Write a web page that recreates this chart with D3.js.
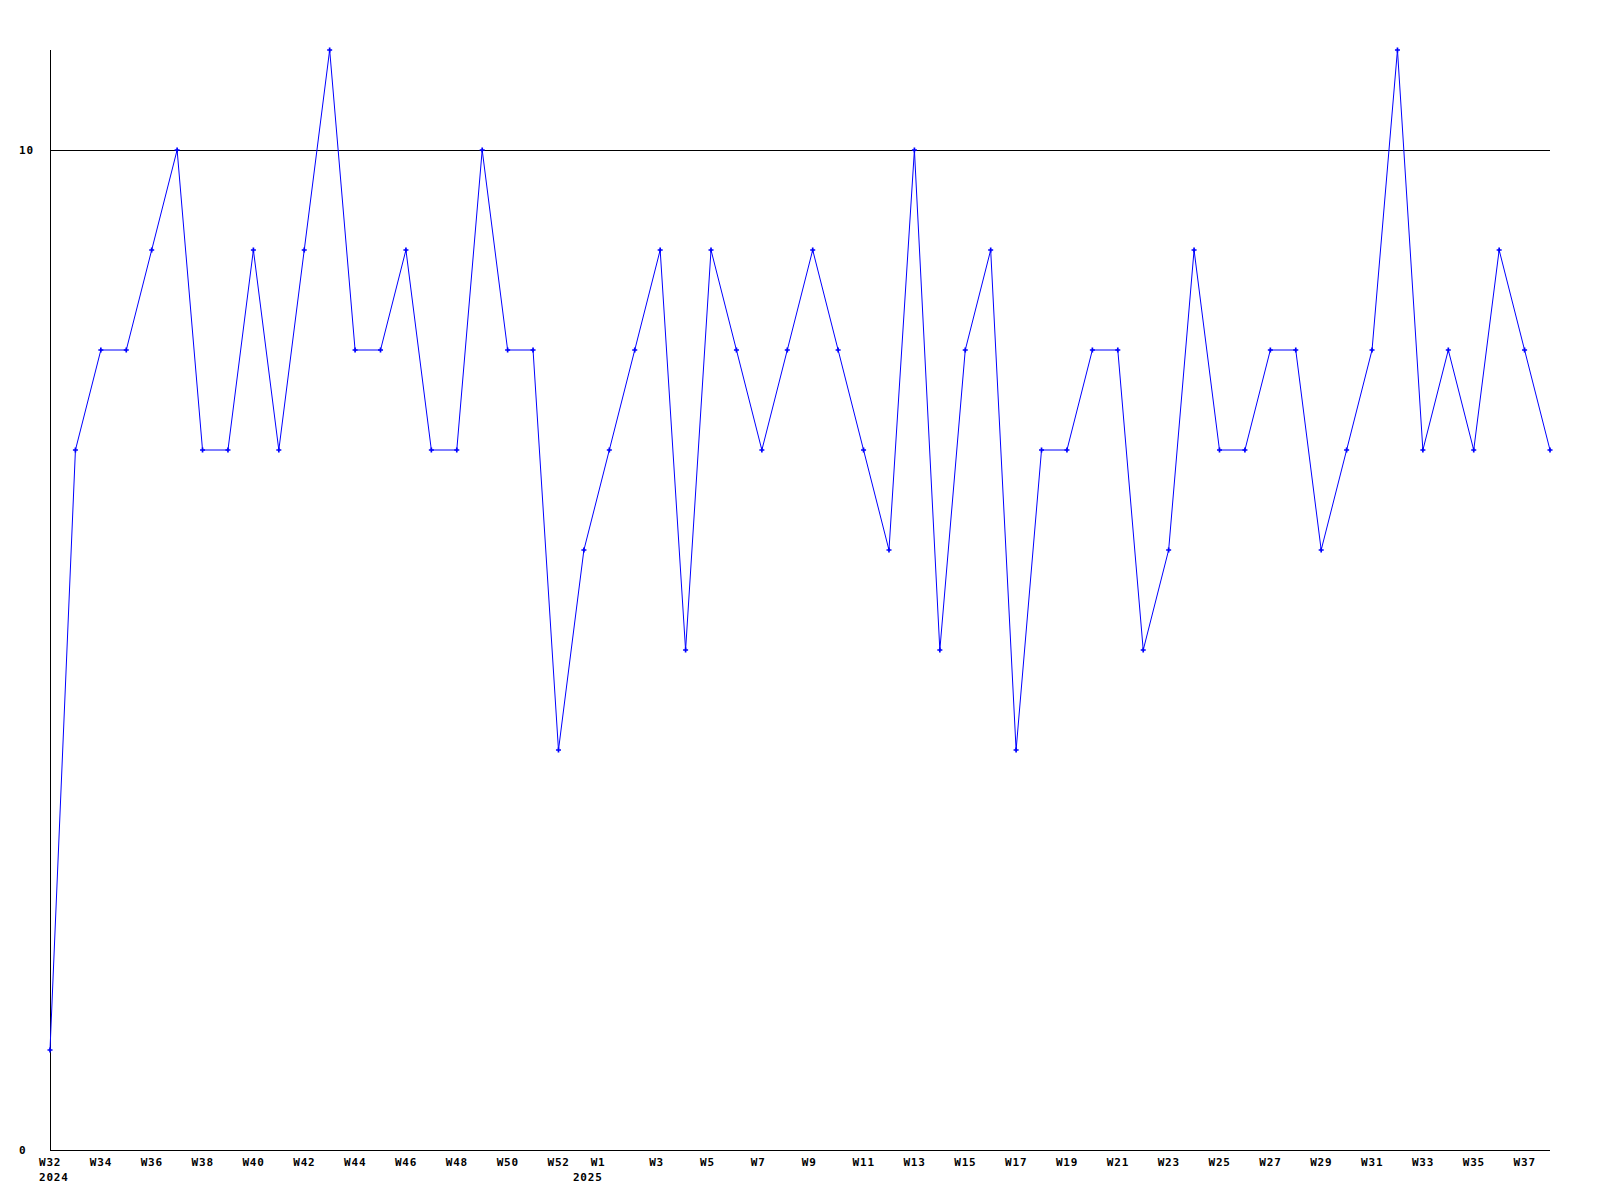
<!DOCTYPE html>
<html>
<head>
<meta charset="utf-8">
<script src="https://cdn.jsdelivr.net/npm/d3@7"></script>
<style>
	body { margin: 0; background: #fff; }
	text { font-family: "DejaVu Sans Mono", monospace; font-weight: bold; font-size: 11px; letter-spacing: 0.8px; fill: #000; }
</style>
</head>
<body>
<svg id="chart" width="1600" height="1200"></svg>
<script>
// weekly counts, W32 2024 .. W38 2025 (one extra week around new year)
var counts = [1, 7, 8, 8, 9, 10, 7, 7, 9, 7, 9, 11, 8, 8, 9, 7, 7, 10, 8, 8,
	4, 6, 7, 8, 9, 5, 9, 8, 7, 8, 9, 8, 7, 6, 10, 5, 8, 9, 4, 7,
	7, 8, 8, 5, 6, 9, 7, 7, 8, 8, 6, 7, 8, 11, 7, 8, 7, 9, 8, 7];

// week tick labels and their position in the series
var weekLabels = ["W32", "W34", "W36", "W38", "W40", "W42", "W44", "W46", "W48", "W50", "W52",
	"W1", "W3", "W5", "W7", "W9", "W11", "W13", "W15", "W17", "W19", "W21", "W23", "W25",
	"W27", "W29", "W31", "W33", "W35", "W37"];
var weekPos = [0, 2, 4, 6, 8, 10, 12, 14, 16, 18, 20,
	21.7, 24, 26, 28, 30, 32, 34, 36, 38, 40, 42, 44, 46,
	48, 50, 52, 54, 56, 58];
var yearLabels = ["2024", "2025"];
var yearPos = [0, 21];
var yTicks = [0, 10];

var margin = {top: 50, right: 50, bottom: 50, left: 50};
var width = 1600 - margin.left - margin.right,
	height = 1200 - margin.top - margin.bottom;

var xScale = d3.scaleLinear()
	.domain([0, counts.length - 1])
	.range([0, width]);

var yScale = d3.scaleLinear()
	.domain([0, 11])
	.range([height, 0]);

var svg = d3.select("#chart").append("g")
	.attr("transform", "translate(" + margin.left + "," + margin.top + ")");

// gridline at 10
svg.selectAll(".grid")
	.data(yTicks.filter(d => d > 0))
	.enter().append("line")
	.attr("x1", 0).attr("x2", width)
	.attr("y1", d => Math.round(yScale(d)) + 0.5)
	.attr("y2", d => Math.round(yScale(d)) + 0.5)
	.attr("stroke", "#000")
	.attr("shape-rendering", "crispEdges");

// axes
svg.append("line")
	.attr("x1", 0.5).attr("x2", 0.5)
	.attr("y1", 0).attr("y2", height)
	.attr("stroke", "#000").attr("shape-rendering", "crispEdges");
svg.append("line")
	.attr("x1", 0).attr("x2", width)
	.attr("y1", height + 0.5).attr("y2", height + 0.5)
	.attr("stroke", "#000").attr("shape-rendering", "crispEdges");

// y labels
svg.selectAll(".ylab")
	.data(yTicks)
	.enter().append("text")
	.attr("x", -31)
	.attr("y", d => yScale(d))
	.attr("dy", "0.35em")
	.text(d => d);

// x labels
svg.selectAll(".wlab")
	.data(weekLabels)
	.enter().append("text")
	.attr("x", (d, i) => xScale(weekPos[i]) - 11)
	.attr("y", height + 12)
	.attr("dy", "0.35em")
	.text(d => d);

svg.selectAll(".ylabel")
	.data(yearLabels)
	.enter().append("text")
	.attr("x", (d, i) => xScale(yearPos[i]) - 11)
	.attr("y", height + 27)
	.attr("dy", "0.35em")
	.text(d => d);

// line
var lineGenerator = d3.line()
	.x((d, i) => xScale(i))
	.y(d => yScale(d));

svg.append("path")
	.datum(counts)
	.attr("d", lineGenerator)
	.attr("fill", "none")
	.attr("stroke", "#0000ff")
	.attr("stroke-width", 1);

// markers
svg.selectAll(".pt")
	.data(counts)
	.enter().append("path")
	.attr("d", d3.symbol(d3.symbolCross, 14))
	.attr("transform", (d, i) => "translate(" + xScale(i) + "," + yScale(d) + ")")
	.attr("fill", "#0000ff");
</script>
</body>
</html>
